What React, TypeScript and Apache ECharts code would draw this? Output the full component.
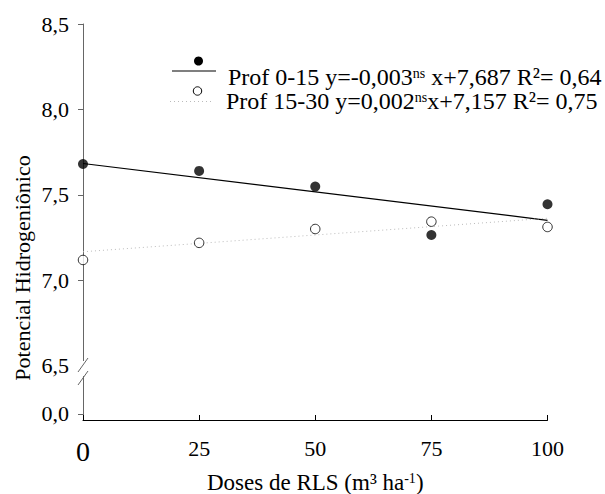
import React, { useEffect, useRef } from "react";
import * as echarts from "echarts";

const doses = [0, 25, 50, 75, 100];
const prof0_15 = [7.681, 7.641, 7.549, 7.266, 7.446];
const prof15_30 = [7.12, 7.22, 7.301, 7.344, 7.313];
const fitX = [0, 100];
const fit0_15 = [7.684, 7.352];
const fit15_30 = [7.168, 7.364];
const yTickValues = [6.22, 6.5, 7, 7.5, 8, 8.5];
const yTickLabels = ["0,0", "6,5", "7,0", "7,5", "8,0", "8,5"];
const yTickMarks = [6.22, 7, 7.5, 8, 8.5];

const FONT = "'Liberation Serif', 'Times New Roman', serif";

export default function App() {
  const ref = useRef<HTMLDivElement>(null);
  useEffect(() => {
    document.body.style.margin = "0";
    if (!ref.current) return;
    const chart = echarts.init(ref.current, null, { renderer: "svg" });
    const pair = (xs: number[], ys: number[]) => xs.map((x, i) => [x, ys[i]]);
    const legendText = (text: string, x: number, y: number) => ({
      type: "text",
      x,
      y,
      style: {
        text,
        font: `24px ${FONT}`,
        fill: "#000",
        verticalAlign: "middle",
        lineHeight: 21,
        rich: { sup: { font: `14px ${FONT}`, fill: "#000", verticalAlign: "top", lineHeight: 21 } },
      },
    });
    chart.setOption({
      animation: false,
      backgroundColor: "#fff",
      grid: { left: 83, right: 57.5, top: 24, bottom: 74, containLabel: false, outerBoundsMode: "none" },
      xAxis: {
        type: "value",
        min: 0,
        max: 100,
        interval: 25,
        name: "Doses de RLS (m³ ha{sup|-1})",
        nameLocation: "middle",
        nameGap: 51,
        nameTextStyle: {
          fontFamily: FONT,
          fontSize: 23,
          color: "#000",
          rich: { sup: { fontFamily: FONT, fontSize: 14, color: "#000", verticalAlign: "top" } },
        },
        axisLine: { lineStyle: { color: "#000", width: 1 } },
        axisTick: { inside: true, length: 5, lineStyle: { color: "#000" } },
        splitLine: { show: false },
        axisLabel: {
          margin: 17,
          fontFamily: FONT,
          fontSize: 22,
          color: "#000",
          formatter: (v: number) => (v === 0 ? "{big|0}" : String(v)),
          rich: { big: { fontFamily: FONT, fontSize: 28, color: "#000" } },
        },
      },
      yAxis: {
        type: "value",
        min: 6.184,
        max: 8.5,
        axisLine: { lineStyle: { color: "#666", width: 1 } },
        axisTick: { length: 5, lineStyle: { color: "#666" }, customValues: yTickMarks },
        splitLine: { show: false },
        axisLabel: {
          customValues: yTickValues,
          margin: 14,
          fontFamily: FONT,
          fontSize: 22,
          color: "#000",
          formatter: (v: number) => {
            const i = yTickValues.findIndex((t) => Math.abs(t - v) < 1e-6);
            return i >= 0 ? yTickLabels[i] : "";
          },
        },
      },
      graphic: [
        { type: "rect", shape: { x: 80, y: 361, width: 6, height: 15 }, style: { fill: "#fff" }, z: 100 },
        { type: "line", shape: { x1: 78, y1: 372, x2: 88, y2: 358 }, style: { stroke: "#666", lineWidth: 1 }, z: 101 },
        { type: "line", shape: { x1: 78, y1: 385, x2: 88, y2: 371 }, style: { stroke: "#666", lineWidth: 1 }, z: 101 },
        {
          type: "text",
          x: 22,
          y: 268,
          rotation: Math.PI / 2,
          style: { text: "Potencial Hidrogeniônico", font: `22px ${FONT}`, fill: "#000", align: "center", verticalAlign: "middle" },
        },
        { type: "line", shape: { x1: 172, y1: 71, x2: 216, y2: 71 }, style: { stroke: "#000", lineWidth: 1.2 } },
        { type: "circle", shape: { cx: 198.5, cy: 61, r: 4.5 }, style: { fill: "#000" } },
        { type: "line", shape: { x1: 170, y1: 101.5, x2: 213, y2: 101.5 }, style: { stroke: "#bbb", lineWidth: 1, lineDash: [1, 3] } },
        { type: "circle", shape: { cx: 197.5, cy: 91, r: 4.2 }, style: { fill: "#fff", stroke: "#000", lineWidth: 1 } },
        legendText("Prof 0-15 y=-0,003{sup|ns} x+7,687 R²= 0,64", 228, 77),
        legendText("Prof 15-30 y=0,002{sup|ns}x+7,157 R²= 0,75", 226, 101),
      ],
      series: [
        {
          type: "line",
          data: pair(fitX, fit0_15),
          symbol: "none",
          lineStyle: { color: "#000", width: 1.2 },
          z: 2,
        },
        {
          type: "line",
          data: pair(fitX, fit15_30),
          symbol: "none",
          lineStyle: { color: "#bbb", width: 1, type: [1, 3] },
          z: 2,
        },
        {
          type: "scatter",
          data: pair(doses, prof0_15),
          symbol: "circle",
          symbolSize: 10,
          itemStyle: { color: "#000" },
          clip: false,
          z: 3,
        },
        {
          type: "scatter",
          data: pair(doses, prof15_30),
          symbol: "circle",
          symbolSize: 9.5,
          itemStyle: { color: "#fff", borderColor: "#000", borderWidth: 1 },
          clip: false,
          z: 3,
        },
      ],
    });
    return () => chart.dispose();
  }, []);
  return <div ref={ref} style={{ width: 605, height: 494 }} />;
}
